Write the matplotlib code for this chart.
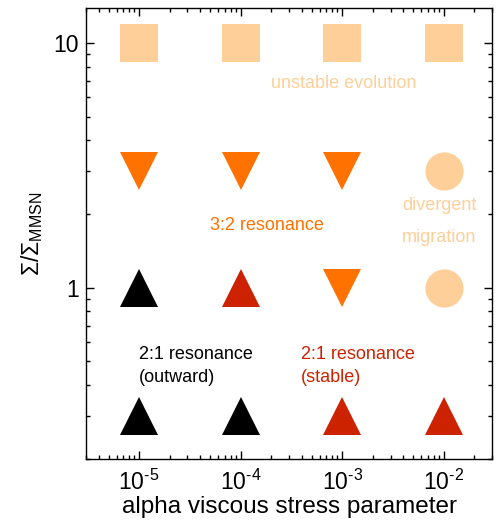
import matplotlib
matplotlib.use("Agg")
import matplotlib.pyplot as plt
from matplotlib.ticker import LogLocator, FixedLocator, FixedFormatter

plt.rcParams['font.family'] = ['Liberation Sans', 'DejaVu Sans']
plt.rcParams['mathtext.fontset'] = 'custom'
plt.rcParams['mathtext.rm'] = 'Liberation Sans'
plt.rcParams['mathtext.it'] = 'Liberation Sans:italic'
plt.rcParams['mathtext.bf'] = 'Liberation Sans:bold'

LIGHT = '#FFCF99'
ORANGE = '#FF7200'
RED = '#CC2200'
BLACK = '#000000'

alpha = [1e-5, 1e-4, 1e-3, 1e-2]
alpha_labels = [r'$10^{\text{-5}}$', r'$10^{\text{-4}}$', r'$10^{\text{-3}}$', r'$10^{\text{-2}}$']
# surface density rows
sigma_rows = [10, 3, 1, 0.3]
# outcome per row: (marker, color) per alpha
row_10 = [('s', LIGHT), ('s', LIGHT), ('s', LIGHT), ('s', LIGHT)]
row_3 = [('v', ORANGE), ('v', ORANGE), ('v', ORANGE), ('o', LIGHT)]
row_1 = [('^', BLACK), ('^', RED), ('v', ORANGE), ('o', LIGHT)]
row_03 = [('^', BLACK), ('^', BLACK), ('^', RED), ('^', RED)]
rows = [row_10, row_3, row_1, row_03]

fig = plt.figure(figsize=(4.97, 5.21), dpi=100)
ax = fig.add_axes([0.173, 0.1196, 0.817, 0.865])

for s, row in zip(sigma_rows, rows):
    for a, (m, c) in zip(alpha, row):
        ms = 28 if m == 's' else 27.5
        ax.plot([a], [s], marker=m, color=c, markersize=ms, linestyle='none',
                markeredgewidth=0)

ax.set_xscale('log')
ax.set_yscale('log')
ax.set_xlim(3e-6, 3e-2)
ax.set_ylim(0.2, 13.9)

ax.yaxis.set_major_locator(FixedLocator([1, 10]))
ax.yaxis.set_major_formatter(FixedFormatter(['1', '10']))
ax.yaxis.set_minor_locator(LogLocator(base=10, subs=range(2, 10)))
ax.yaxis.set_minor_formatter(FixedFormatter([]))
ax.xaxis.set_major_locator(FixedLocator(alpha))
ax.xaxis.set_major_formatter(FixedFormatter(alpha_labels))
ax.xaxis.set_minor_locator(LogLocator(base=10, subs=range(2, 10)))
ax.xaxis.set_minor_formatter(FixedFormatter([]))

ax.tick_params(which='both', direction='in', top=True, right=True, width=1.0)
ax.tick_params(which='major', length=6, labelsize=16.5)
ax.tick_params(axis='x', which='major', pad=8)
ax.tick_params(axis='y', which='major', pad=5)
ax.tick_params(which='minor', length=3)
for sp in ax.spines.values():
    sp.set_linewidth(1.0)

ax.set_xlabel('alpha viscous stress parameter', fontsize=17.5, labelpad=1)
ax.set_ylabel(r'$\Sigma/\Sigma_{\rm MMSN}$', fontsize=16.5, labelpad=6)

fs = 13
ax.text(2.0e-4, 6.85, 'unstable evolution', color=LIGHT, fontsize=fs, ha='left', va='center')
ax.text(9e-3, 2.16, 'divergent', color=LIGHT, fontsize=fs, ha='center', va='center')
ax.text(9e-3, 1.6, 'migration', color=LIGHT, fontsize=fs, ha='center', va='center')
ax.text(4.97e-5, 1.79, '3:2 resonance', color=ORANGE, fontsize=fs, ha='left', va='center')
ax.text(1e-5, 0.532, '2:1 resonance', color=BLACK, fontsize=fs, ha='left', va='center')
ax.text(1e-5, 0.428, '(outward)', color=BLACK, fontsize=fs, ha='left', va='center')
ax.text(3.94e-4, 0.532, '2:1 resonance', color=RED, fontsize=fs, ha='left', va='center')
ax.text(3.94e-4, 0.428, '(stable)', color=RED, fontsize=fs, ha='left', va='center')

fig.savefig('out.png', dpi=100)
